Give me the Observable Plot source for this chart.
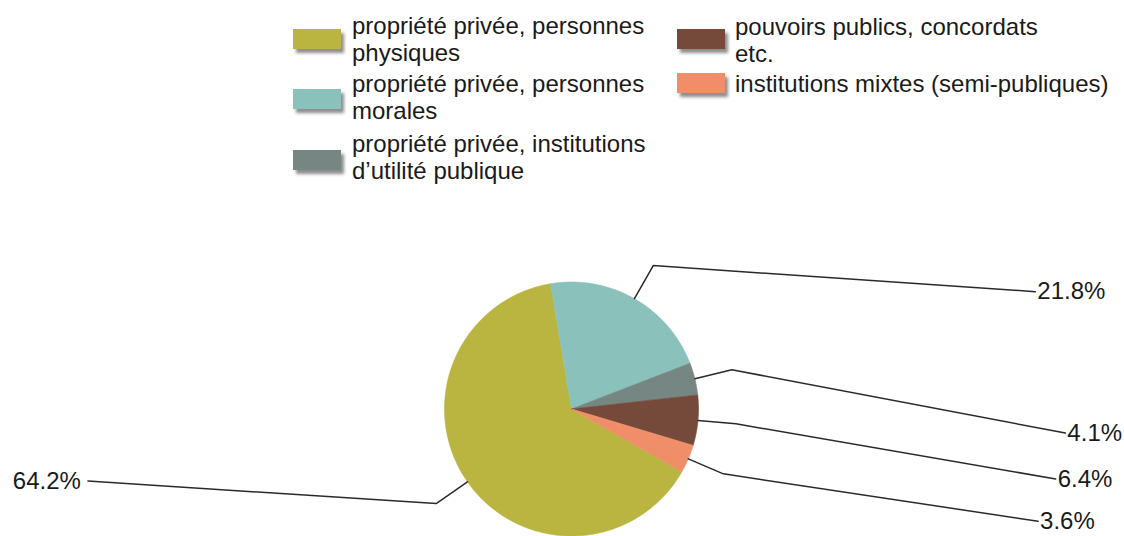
<!DOCTYPE html>
<html>
<head>
<meta charset="utf-8">
<script src="https://cdn.jsdelivr.net/npm/d3@7"></script>
<script src="https://cdn.jsdelivr.net/npm/@observablehq/plot@0.6"></script>
<style>
  html, body { margin: 0; padding: 0; background: white; }
  #wrap { width: 1124px; font-family: "Liberation Sans", Arial, sans-serif; color: #1a1a1a; }
  #legend { position: relative; width: 1124px; height: 190px; }
  .sw { position: absolute; width: 48px; height: 20px; box-shadow: 3px 4px 3px rgba(50,50,50,0.55); }
  .lt { position: absolute; font-size: 24px; line-height: 27px; white-space: nowrap; }
</style>
</head>
<body>
<div id="wrap">
  <div id="legend"></div>
  <div id="chart"></div>
</div>
<script>
// ---- data ----
const categories = [
  "propriété privée, personnes physiques",
  "propriété privée, personnes morales",
  "propriété privée, institutions d’utilité publique",
  "pouvoirs publics, concordats etc.",
  "institutions mixtes (semi-publiques)"
];
const legendLines = [
  ["propriété privée, personnes", "physiques"],
  ["propriété privée, personnes", "morales"],
  ["propriété privée, institutions", "d’utilité publique"],
  ["pouvoirs publics, concordats", "etc."],
  ["institutions mixtes (semi-publiques)"]
];
const values = [64.2, 21.8, 4.1, 6.4, 3.6];
const colors = ["#b9b540", "#8bc1bb", "#768683", "#754a3a", "#f08e6a"];
// label vertical layout (in pie-radius units, y up)
const labelY = [-0.567, 0.924, -0.189, -0.551, -0.884];

// ---- legend (HTML) ----
const legendPos = [
  {sx: 293, sy: 29, tx: 352, ty: 11.5},
  {sx: 293, sy: 89, tx: 352, ty: 70},
  {sx: 293, sy: 150, tx: 352, ty: 130},
  {sx: 677, sy: 28.5, tx: 735, ty: 12.5},
  {sx: 677, sy: 73, tx: 735, ty: 70}
];
const legend = document.getElementById("legend");
categories.forEach((c, i) => {
  const p = legendPos[i];
  const sw = document.createElement("div");
  sw.className = "sw";
  sw.style.left = p.sx + "px"; sw.style.top = p.sy + "px";
  sw.style.background = colors[i];
  legend.appendChild(sw);
  const t = document.createElement("div");
  t.className = "lt";
  t.style.left = p.tx + "px"; t.style.top = p.ty + "px";
  t.innerHTML = legendLines[i].join("<br>");
  legend.appendChild(t);
});

// ---- geometry ----
const R = 127;              // pixel radius
const cx = 571, cy = 408.5; // pie centre in page pixels
const top0 = 190, H = 346, W = 1124;
const start = -240.4 * Math.PI / 180;
const arcs = d3.pie().value(d => d).sort(null).startAngle(start).endAngle(start + 2 * Math.PI)(values);

const slicePts = [];
arcs.forEach((a, i) => {
  const key = categories[i];
  slicePts.push({key, x: 0, y: 0});
  const n = Math.max(2, Math.ceil((a.endAngle - a.startAngle) / (0.4 * Math.PI / 180)));
  for (let k = 0; k <= n; k++) {
    const t = a.startAngle + (a.endAngle - a.startAngle) * k / n;
    slicePts.push({key, x: Math.sin(t), y: Math.cos(t)});
  }
  slicePts.push({key, x: 0, y: 0});
});

// label ellipse
const A2 = 15.2, K = 2.18;
const leaderPts = [];
const labelData = [];
arcs.forEach((a, i) => {
  const key = categories[i];
  const m = (a.startAngle + a.endAngle) / 2;
  const s = Math.sin(m) >= 0 ? 1 : -1;
  const ly = labelY[i];
  const lx = s * Math.sqrt(A2 - K * ly * ly);
  leaderPts.push({key, x: Math.sin(m), y: Math.cos(m)});
  leaderPts.push({key, x: 1.3 * Math.sin(m), y: 1.3 * Math.cos(m)});
  leaderPts.push({key, x: lx, y: ly});
  labelData.push({key, x: lx, y: ly, side: s, text: values[i].toFixed(1) + "%"});
});

const chart = Plot.plot({
  width: W,
  height: H,
  margin: 0,
  x: {domain: [-cx / R, (W - cx) / R], axis: null},
  y: {domain: [(cy - (top0 + H)) / R, (cy - top0) / R], axis: null},
  color: {domain: categories, range: colors},
  style: {fontFamily: "'Liberation Sans', Arial, sans-serif", background: "white", color: "#1a1a1a"},
  marks: [
    Plot.line(slicePts, {x: "x", y: "y", z: "key", fill: "key", stroke: "key", strokeWidth: 0.6, curve: "linear"}),
    Plot.line(leaderPts, {x: "x", y: "y", z: "key", stroke: "#2a2a2a", strokeWidth: 1.5, curve: "linear"}),
    Plot.text(labelData.filter(d => d.side > 0), {x: "x", y: "y", text: "text", textAnchor: "start", dx: 2, fontSize: 24, fill: "#1a1a1a"}),
    Plot.text(labelData.filter(d => d.side < 0), {x: "x", y: "y", text: "text", textAnchor: "end", dx: -7, fontSize: 24, fill: "#1a1a1a"})
  ]
});
document.getElementById("chart").appendChild(chart);
</script>
</body>
</html>
